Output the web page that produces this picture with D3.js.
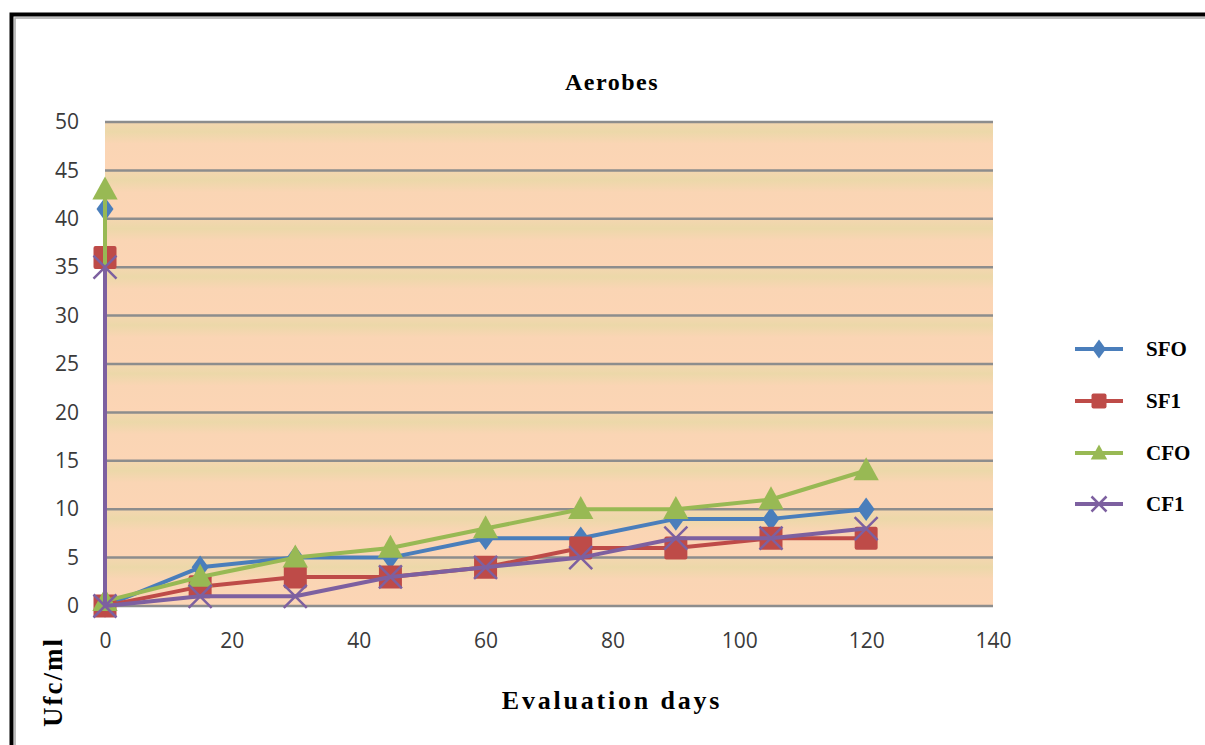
<!DOCTYPE html>
<html>
<head>
<meta charset="utf-8">
<script src="https://cdn.jsdelivr.net/npm/d3@7"></script>
<style>
  body { margin: 0; background: #fff; }
  svg text { font-family: "Liberation Serif", serif; }
</style>
</head>
<body>
<div id="chart"></div>
<script>
// data
const days = [0, 0, 15, 30, 45, 60, 75, 90, 105, 120];
const SFO = [41, 0, 4, 5, 5, 7, 7, 9, 9, 10];
const SF1 = [36, 0, 2, 3, 3, 4, 6, 6, 7, 7];
const CFO = [43, 0.5, 3, 5, 6, 8, 10, 10, 11, 14];
const CF1 = [35, 0, 1, 1, 3, 4, 5, 7, 7, 8];
const seriesNames = ["SFO", "SF1", "CFO", "CF1"];
const xTicks = [0, 20, 40, 60, 80, 100, 120, 140];
const yTicks = [0, 5, 10, 15, 20, 25, 30, 35, 40, 45, 50];

const width = 1205, height = 745;
const margin = {left: 105, right: 212, top: 122, bottom: 139};

const colors = {"SFO": "#4a7ebb", "SF1": "#be4b48", "CFO": "#98b954", "CF1": "#7d60a0"};
const shapes = {"SFO": "diamond", "SF1": "square", "CFO": "triangle", "CF1": "cross"};
const allSeries = {"SFO": SFO, "SF1": SF1, "CFO": CFO, "CF1": CF1};

let svg = d3.select("#chart").append("svg")
    .attr("width", width)
    .attr("height", height);

let x = d3.scaleLinear().domain([0, 140]).range([margin.left, width - margin.right]);
let y = d3.scaleLinear().domain([0, 50]).range([height - margin.bottom, margin.top]);

// outer frame (runs off the right and bottom edges)
svg.append("rect")
    .attr("x", 11.5).attr("y", 14.5)
    .attr("width", 1300).attr("height", 900)
    .attr("fill", "none").attr("stroke", "#000").attr("stroke-width", 4);
svg.append("rect")
    .attr("x", 15).attr("y", 18)
    .attr("width", 1300).attr("height", 900)
    .attr("fill", "none").attr("stroke", "#a8a8a8").attr("stroke-width", 1.5);

// band gradient: khaki under every gridline fading to peach
let defs = svg.append("defs");
let grad = defs.append("linearGradient").attr("id", "band")
    .attr("x1", 0).attr("y1", 0).attr("x2", 0).attr("y2", 1);
grad.append("stop").attr("offset", "0%").attr("stop-color", "#f4d6b0");
grad.append("stop").attr("offset", "20%").attr("stop-color", "#ecd8a9");
grad.append("stop").attr("offset", "45%").attr("stop-color", "#fad5b4");
grad.append("stop").attr("offset", "100%").attr("stop-color", "#fcd5b5");

let plot = svg.append("g");
yTicks.slice(1).forEach(function(t){
    plot.append("rect")
        .attr("x", x(0)).attr("y", y(t))
        .attr("width", x(140) - x(0))
        .attr("height", y(t - 5) - y(t))
        .attr("fill", "url(#band)");
});

// gridlines
plot.selectAll("line.grid")
    .data(yTicks)
    .join("line")
        .attr("class", "grid")
        .attr("x1", x(0)).attr("x2", x(140))
        .attr("y1", d => y(d)).attr("y2", d => y(d))
        .attr("stroke", "#8d8d8d")
        .attr("stroke-width", 2.5);

// axes (labels only, no domain/ticks)
let yAxis = d3.axisLeft(y).tickValues(yTicks).tickSize(0).tickPadding(26);
svg.append("g")
    .attr("transform", "translate(" + x(0) + ",0)")
    .call(yAxis)
    .call(g => g.select(".domain").remove())
    .selectAll("text")
        .style("font-family", "'Open Sans', sans-serif")
        .style("font-size", "21px")
        .attr("fill", "#3a3a3a");

let xAxis = d3.axisBottom(x).tickValues(xTicks).tickSize(0).tickPadding(27);
svg.append("g")
    .attr("transform", "translate(0," + y(0) + ")")
    .call(xAxis)
    .call(g => g.select(".domain").remove())
    .selectAll("text")
        .style("font-family", "'Open Sans', sans-serif")
        .style("font-size", "21px")
        .attr("fill", "#3a3a3a");

// marker drawing
function drawMarker(g, shape, color, cx, cy, s) {
    if (shape === "diamond") {
        g.append("path")
            .attr("d", d3.symbol(d3.symbolDiamond, s * 14)())
            .attr("transform", "translate(" + cx + "," + cy + ") scale(1.25,1)")
            .attr("fill", color);
    } else if (shape === "square") {
        g.append("rect")
            .attr("x", cx - s).attr("y", cy - s)
            .attr("width", 2 * s).attr("height", 2 * s)
            .attr("rx", 2)
            .attr("fill", color);
    } else if (shape === "triangle") {
        g.append("path")
            .attr("d", "M" + cx + "," + (cy - s * 1.15) + "L" + (cx + s * 1.1) + "," + (cy + s * 0.85) + "L" + (cx - s * 1.1) + "," + (cy + s * 0.85) + "Z")
            .attr("fill", color);
    } else {
        g.append("path")
            .attr("d", "M" + (cx - s) + "," + (cy - s) + "L" + (cx + s) + "," + (cy + s) + "M" + (cx + s) + "," + (cy - s) + "L" + (cx - s) + "," + (cy + s))
            .attr("stroke", color).attr("stroke-width", 2.5)
            .attr("fill", "none");
    }
}

let line = d3.line().x(d => x(d[0])).y(d => y(d[1]));

seriesNames.forEach(function(name){
    let pts = days.map((d, i) => [d, allSeries[name][i]]);
    let g = svg.append("g");
    g.append("path")
        .datum(pts)
        .attr("d", line)
        .attr("fill", "none")
        .attr("stroke", colors[name])
        .attr("stroke-width", 4)
        .attr("stroke-linejoin", "round");
    pts.forEach(function(p){
        drawMarker(g, shapes[name], colors[name], x(p[0]), y(p[1]), 11.5);
    });
});

// title and axis titles
svg.append("text")
    .attr("x", 612).attr("y", 90)
    .attr("text-anchor", "middle")
    .style("font-size", "24px")
    .style("font-weight", "bold")
    .style("letter-spacing", "1.5px")
    .text("Aerobes");

svg.append("text")
    .attr("x", 612).attr("y", 709)
    .attr("text-anchor", "middle")
    .style("font-size", "26px")
    .style("font-weight", "bold")
    .style("letter-spacing", "2.8px")
    .text("Evaluation days");

svg.append("text")
    .attr("transform", "translate(62,682) rotate(-90)")
    .attr("text-anchor", "middle")
    .style("font-size", "27px")
    .style("font-weight", "bold")
    .style("letter-spacing", "2px")
    .text("Ufc/ml");

// legend
let legendY = [349, 401, 453, 504];
seriesNames.forEach(function(name, i){
    let g = svg.append("g");
    g.append("line")
        .attr("x1", 1075).attr("x2", 1123)
        .attr("y1", legendY[i]).attr("y2", legendY[i])
        .attr("stroke", colors[name]).attr("stroke-width", 4);
    drawMarker(g, shapes[name], colors[name], 1099, legendY[i], 7.5);
    g.append("text")
        .attr("x", 1146).attr("y", legendY[i] + 7)
        .style("font-size", "21px")
        .style("font-weight", "bold")
        .text(name);
});
</script>
</body>
</html>
